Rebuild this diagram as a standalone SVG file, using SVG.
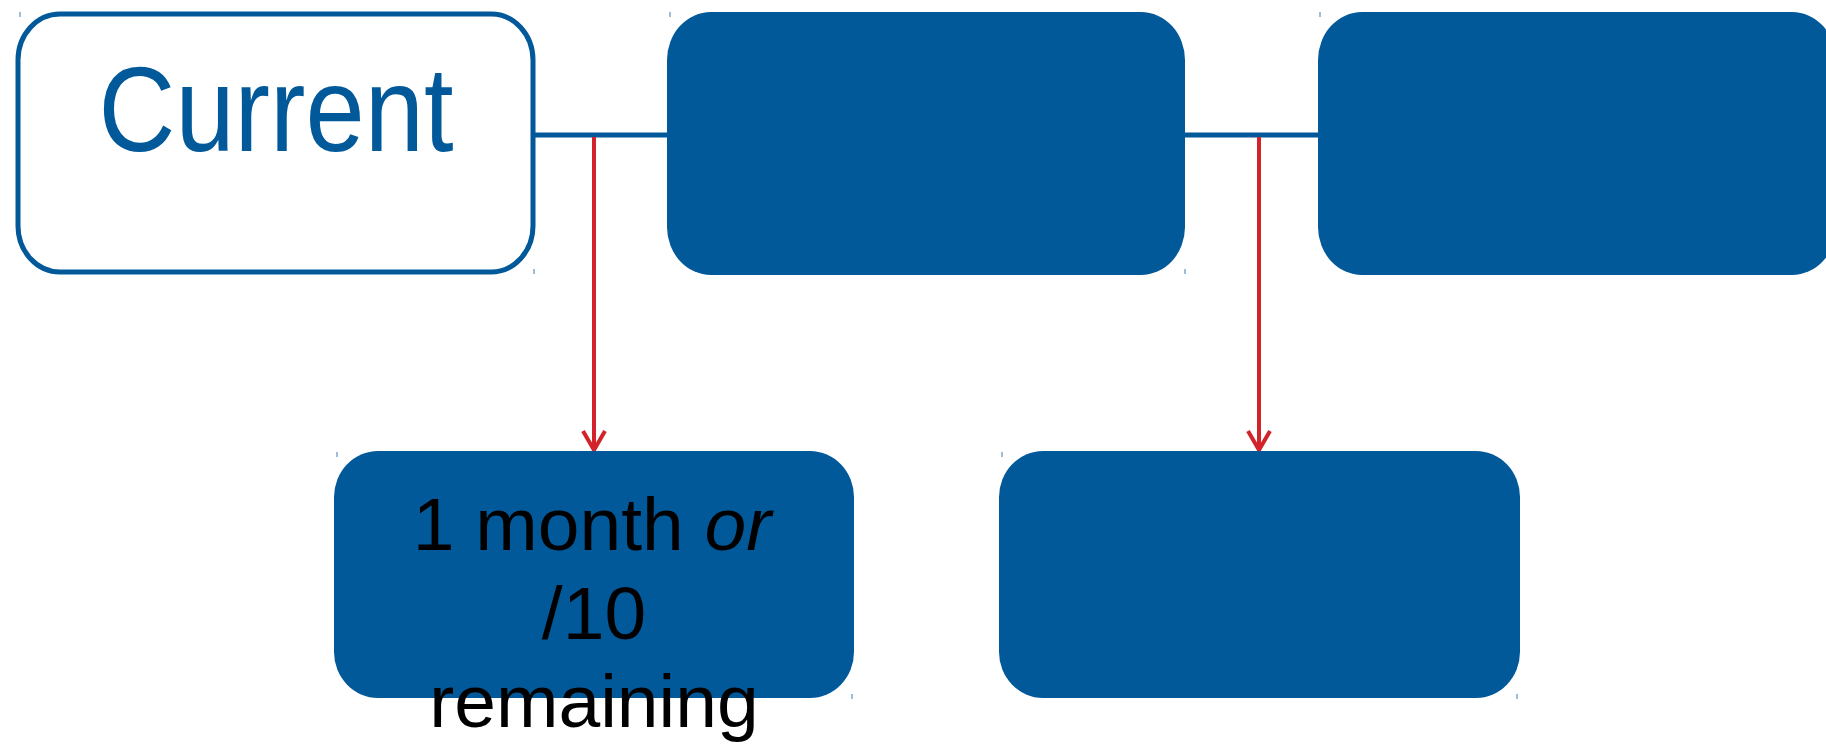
<svg xmlns="http://www.w3.org/2000/svg" width="1826" height="744" viewBox="0 0 1826 744">
<style>
.box{fill:#02599A}
.outline{fill:#fff;stroke:#02599A;stroke-width:5}
.link{stroke:#02599A;stroke-width:5;fill:none}
.arrow{stroke:#D2232A;stroke-width:4;fill:none}
.tick{stroke:#7FA7CC;stroke-width:1.5}
.lbl{font-family:"Liberation Sans",Arial,sans-serif;fill:#000;font-size:75px;text-anchor:middle}
</style>
<rect width="1826" height="744" fill="#fff"/>
<g id="connectors">
<line class="link" x1="533" y1="135" x2="667" y2="135"/>
<line class="link" x1="1185" y1="135" x2="1318" y2="135"/>
<path class="arrow" d="M594,137 V449"/>
<path class="arrow" d="M583,431 L594,450 L605,431"/>
<path class="arrow" d="M1259,137 V449"/>
<path class="arrow" d="M1248,431 L1259,450 L1270,431"/>
</g>
<g id="node-current">
<rect class="outline" x="18" y="14" width="515" height="258" rx="42" ry="46"/>
<text x="276" y="151" font-family="Liberation Sans, Arial, sans-serif" font-size="120" fill="#02599A" text-anchor="middle" textLength="355" lengthAdjust="spacingAndGlyphs">Current</text>
</g>
<g id="node-2">
<rect class="box" x="667" y="12" width="518" height="263" rx="44" ry="48"/>
</g>
<g id="node-3">
<rect class="box" x="1318" y="12" width="518" height="263" rx="44" ry="48"/>
</g>
<g id="node-4">
<rect class="box" x="334" y="451" width="520" height="247" rx="44" ry="46"/>
<text class="lbl"><tspan x="592" y="550">1 month <tspan font-style="italic">or</tspan></tspan><tspan x="594" y="639">/10</tspan><tspan x="594" y="727">remaining</tspan></text>
</g>
<g id="node-5">
<rect class="box" x="999" y="451" width="521" height="247" rx="44" ry="46"/>
</g>
<g id="ticks">
<line class="tick" x1="20" y1="12" x2="20" y2="17"/>
<line class="tick" x1="670" y1="12" x2="670" y2="17"/>
<line class="tick" x1="1320" y1="12" x2="1320" y2="17"/>
<line class="tick" x1="534" y1="269" x2="534" y2="274"/>
<line class="tick" x1="1185" y1="269" x2="1185" y2="274"/>
<line class="tick" x1="337" y1="452" x2="337" y2="457"/>
<line class="tick" x1="852" y1="694" x2="852" y2="699"/>
<line class="tick" x1="1002" y1="452" x2="1002" y2="457"/>
<line class="tick" x1="1517" y1="694" x2="1517" y2="699"/>
</g>
</svg>
